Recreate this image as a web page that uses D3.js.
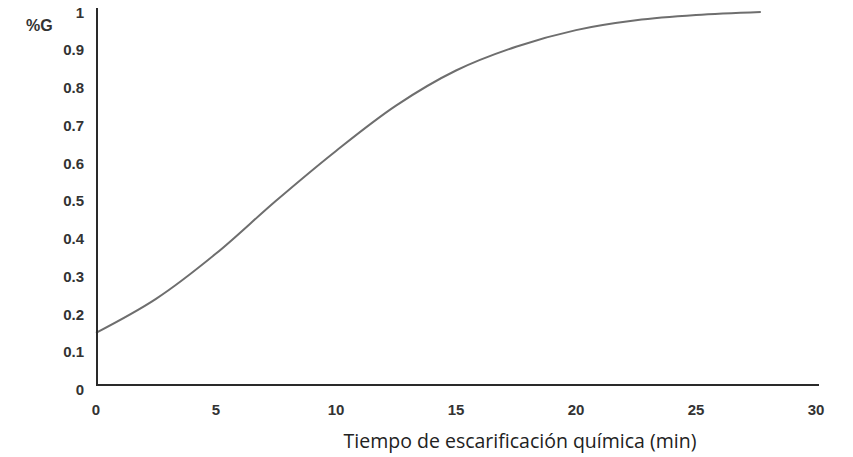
<!DOCTYPE html>
<html><head><meta charset="utf-8">
<script src="https://cdn.jsdelivr.net/npm/d3@7"></script>
<style>body{margin:0;background:#fff}</style>
</head><body>
<svg id="c" width="853" height="457"></svg>
<script>
const times = [0, 2.5, 5, 7.5, 10, 12.5, 15, 17.5, 20, 22.5, 25, 27.7];
const germination = [0.15, 0.24, 0.36, 0.50, 0.632, 0.752, 0.845, 0.908, 0.952, 0.978, 0.992, 1.0];
const xTicks = [0, 5, 10, 15, 20, 25, 30];
const yTicks = [0, 0.1, 0.2, 0.3, 0.4, 0.5, 0.6, 0.7, 0.8, 0.9, 1];
const xLabel = "Tiempo de escarificación química (min)";
const yLabel = "%G";

const svg = d3.select("#c");
const x = d3.scaleLinear().domain([0, 30]).range([96, 816]);
const y = d3.scaleLinear().domain([0, 1]).range([389.5, 12]);

// curve
svg.append("path")
  .datum(times.map((t, i) => [t, germination[i]]))
  .attr("fill", "none").attr("stroke", "#6e6e6e").attr("stroke-width", 2)
  .attr("d", d3.line().x(d => x(d[0])).y(d => y(d[1])).curve(d3.curveCatmullRom.alpha(0.5)));

// axes lines
const axisY = y(0) - 4.5;
svg.append("line").attr("x1", x(0) + 1).attr("x2", x(0) + 1).attr("y1", y(1) - 4).attr("y2", axisY + 1)
  .attr("stroke", "#2a2a2a").attr("stroke-width", 2);
svg.append("line").attr("x1", x(0)).attr("x2", x(30) + 3).attr("y1", axisY).attr("y2", axisY)
  .attr("stroke", "#2a2a2a").attr("stroke-width", 2);

const tickFont = "'Liberation Sans', Arial, sans-serif";
svg.append("g").selectAll("text").data(xTicks).join("text")
  .attr("x", d => x(d)).attr("y", 415)
  .attr("text-anchor", "middle").attr("font-family", tickFont)
  .attr("font-size", 15).attr("font-weight", "bold").attr("fill", "#333")
  .text(d => d);

svg.append("g").selectAll("text").data(yTicks).join("text")
  .attr("x", 84).attr("y", d => y(d) + 5.5)
  .attr("text-anchor", "end").attr("font-family", tickFont)
  .attr("font-size", 15).attr("font-weight", "bold").attr("fill", "#333")
  .text(d => d);

svg.append("text").attr("x", 26).attr("y", 31).attr("text-anchor", "start")
  .attr("font-family", tickFont).attr("font-size", 16).attr("font-weight", "bold").attr("fill", "#333")
  .text(yLabel);

svg.append("text").attr("x", 520).attr("y", 448).attr("text-anchor", "middle")
  .attr("font-family", "'Open Sans', sans-serif").attr("font-size", 19.5).attr("fill", "#222")
  .text(xLabel);
</script>
</body></html>
